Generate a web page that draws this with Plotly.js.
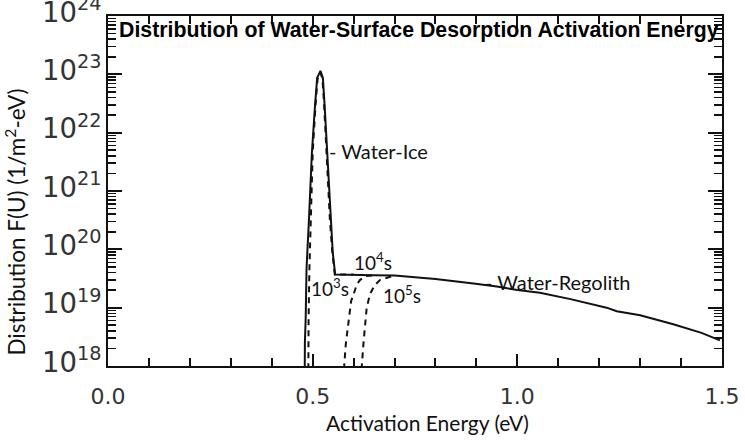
<!DOCTYPE html>
<html>
<head>
<meta charset="utf-8">
<script src="https://cdn.plot.ly/plotly-3.0.1.min.js"></script>
<style>
  html, body { margin: 0; padding: 0; background: #fff; }
  #myDiv { width: 745px; height: 440px; }
</style>
</head>
<body>
<div id="myDiv"></div>
<script>
// total distribution (water-ice peak + water-regolith tail)
var energy = [0.480, 0.480, 0.481, 0.483, 0.485, 0.491, 0.498, 0.506, 0.511, 0.519, 0.525, 0.529, 0.536, 0.544, 0.549, 0.555,
              0.60, 0.65, 0.70, 0.73, 0.80, 0.893, 0.95, 1.0, 1.055, 1.13, 1.218, 1.243, 1.30, 1.381, 1.45, 1.495];
var fTotal = [1e17, 1e18, 2.5e18, 6.8e18, 4.7e19, 3.3e20, 4.4e21, 3.1e22, 8.7e22, 1.15e23, 8.7e22, 3.1e22, 4.4e21, 3.3e20, 9e19, 3.7e19,
              3.7e19, 3.6e19, 3.55e19, 3.4e19, 3.1e19, 2.6e19, 2.3e19, 2.0e19, 1.8e19, 1.4e19, 1.0e19, 8.7e18, 7.4e18, 5.2e18, 3.7e18, 2.75e18];

// after 10^3 s
var energy3 = [0.489, 0.489, 0.490, 0.492, 0.495, 0.500, 0.507, 0.512, 0.519, 0.524, 0.528, 0.534, 0.542, 0.548, 0.554, 0.60];
var f3 = [1e17, 1e18, 6e18, 4.5e19, 3.2e20, 4.4e21, 3.0e22, 8.3e22, 1.08e23, 8.3e22, 3.0e22, 4.4e21, 3.3e20, 9e19, 3.7e19, 3.7e19];

// after 10^4 s
var energy4 = [0.577, 0.577, 0.581, 0.587, 0.594, 0.600, 0.608, 0.616, 0.630, 0.65];
var f4 = [1e17, 1e18, 2.4e18, 5.2e18, 1.3e19, 1.7e19, 2.5e19, 3.0e19, 3.5e19, 3.6e19];

// after 10^5 s
var energy5 = [0.620, 0.620, 0.624, 0.628, 0.632, 0.640, 0.651, 0.665, 0.684, 0.70];
var f5 = [1e17, 1e18, 2.4e18, 5.2e18, 1.0e19, 1.7e19, 2.4e19, 3.0e19, 3.3e19, 3.55e19];

var labelFont = {family: 'Lato, sans-serif', size: 20, color: '#111'};
var timeFont = {family: 'Lato, sans-serif', size: 19, color: '#111'};

function dashed(x, y, name) {
  return {x: x, y: y, type: 'scatter', mode: 'lines', name: name,
          line: {color: '#111', width: 2, dash: '6px,5px'}};
}

var data = [
  dashed(energy3, f3, '10^3 s'),
  dashed(energy4, f4, '10^4 s'),
  dashed(energy5, f5, '10^5 s'),
  {x: energy, y: fTotal, type: 'scatter', mode: 'lines', name: 'initial',
   line: {color: '#111', width: 2}}
];

var tickFont = {family: 'DejaVu Sans, sans-serif', size: 22, color: '#333'};

var layout = {
  width: 745,
  height: 440,
  margin: {l: 108, r: 23, t: 16, b: 74},
  paper_bgcolor: '#fff',
  plot_bgcolor: '#fff',
  showlegend: false,
  xaxis: {
    range: [0, 1.5],
    dtick: 0.5,
    tickformat: '.1f',
    ticks: 'inside',
    ticklen: 12,
    tickwidth: 2,
    tickcolor: '#111',
    minor: {ticks: 'inside', dtick: 0.1, ticklen: 8, tickwidth: 2, tickcolor: '#111'},
    showline: true,
    linewidth: 2,
    linecolor: '#111',
    mirror: 'allticks',
    showgrid: false,
    zeroline: false,
    tickfont: tickFont,
    ticklabelstandoff: 10
  },
  yaxis: {
    type: 'log',
    range: [17.9999, 24.0001],
    dtick: 1,
    exponentformat: 'power',
    ticks: 'inside',
    ticklen: 14,
    tickwidth: 2,
    tickcolor: '#111',
    minor: {ticks: 'inside', dtick: 'D1', ticklen: 8, tickwidth: 1.5, tickcolor: '#111'},
    showline: true,
    linewidth: 2,
    linecolor: '#111',
    mirror: 'allticks',
    showgrid: false,
    zeroline: false,
    tickfont: tickFont,
    ticklabelshift: -4,
    ticklabeloverflow: 'allow'
  },
  annotations: [
    {text: '<b>Distribution of Water-Surface Desorption Activation Energy</b>', xref: 'paper', yref: 'paper',
     x: 0.014, y: 0.96, xanchor: 'left', yanchor: 'middle', showarrow: false,
     font: {family: 'Liberation Sans, Arial, sans-serif', size: 21.3, color: '#000'}},
    {text: 'Activation Energy (eV)', xref: 'paper', yref: 'paper', x: 0.521, y: -0.160,
     xanchor: 'center', yanchor: 'middle', showarrow: false,
     font: {family: 'Lato, sans-serif', size: 21, color: '#111'}},
    {text: 'Distribution F(U) (1/m<sup>2</sup>-eV)', xref: 'paper', yref: 'paper', x: -0.153, y: 0.41,
     xanchor: 'center', yanchor: 'middle', textangle: -90, showarrow: false,
     font: {family: 'Lato, sans-serif', size: 22.5, color: '#111'}},
    {text: '- Water-Ice', x: 0.535, y: 21.69, xanchor: 'left', yanchor: 'middle', showarrow: false, font: labelFont},
    {text: '10<sup>4</sup>s', x: 0.596, y: 19.79, xanchor: 'left', yanchor: 'middle', showarrow: false, font: timeFont},
    {text: '10<sup>3</sup>s', x: 0.492, y: 19.34, xanchor: 'left', yanchor: 'middle', showarrow: false, font: timeFont},
    {text: '10<sup>5</sup>s', x: 0.667, y: 19.23, xanchor: 'left', yanchor: 'middle', showarrow: false, font: timeFont},
    {text: '- Water-Regolith', x: 0.916, y: 19.44, xanchor: 'left', yanchor: 'middle', showarrow: false, font: labelFont}
  ]
};

Plotly.newPlot('myDiv', data, layout, {staticPlot: true});
</script>
</body>
</html>
